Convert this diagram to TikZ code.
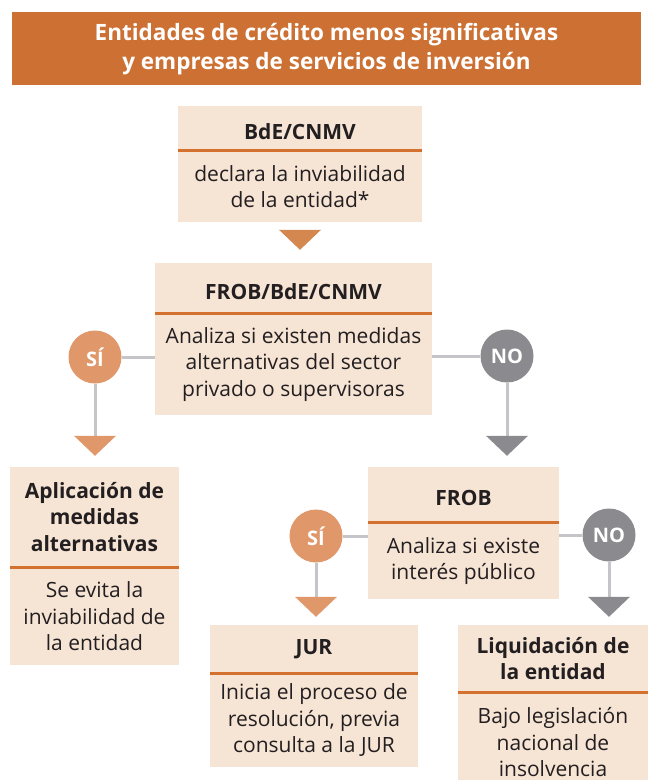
\documentclass[tikz,border=0pt]{standalone}
\usepackage{fontspec}
\setmainfont{Open Sans}
\usetikzlibrary{arrows.meta}

\definecolor{headcol}{HTML}{CD7033}
\definecolor{boxfill}{HTML}{F6E4D5}
\definecolor{sepcol}{HTML}{D5712E}
\definecolor{sicol}{HTML}{E0976A}
\definecolor{nocol}{HTML}{8B8B8F}
\definecolor{linkcol}{HTML}{C5C5C9}
\definecolor{txtcol}{HTML}{231F20}
\definecolor{downcol}{HTML}{D4874F}

\tikzset{
boxhead/.style={fill=boxfill, text=txtcol, align=center, inner sep=0pt,
  font=\fontsize{21}{26.5}\selectfont\bfseries},
onehead/.style={boxhead, text height=22pt, text depth=0pt},
boxbody/.style={fill=boxfill, text=txtcol, align=center, inner sep=0pt,
  anchor=north, font=\fontsize{21}{26.5}\selectfont},
seprule/.style={draw=sepcol, line width=3pt},
answer/.style={circle, minimum size=53pt, inner sep=0pt, text=white,
  font=\fontsize{20}{24}\selectfont\bfseries},
link/.style={draw=linkcol, line width=3pt},
downtip/.style={-{Triangle[width=42pt,length=20pt,line width=0pt,color=#1]}},
}

\begin{document}
\begin{tikzpicture}[x=1pt,y=-1pt]
\useasboundingbox (0,0) rectangle (651,780);

% cabecera
\node[fill=headcol, text=white, align=center, inner sep=0pt,
  minimum width=629pt, minimum height=73pt,
  font=\fontsize{22.5}{29}\selectfont\bfseries] (titulo) at (326.5,48.5)
  {\rule{0pt}{19pt}Entidades de crédito menos significativas\\y empresas de servicios de inversión};

% cajas
\node[onehead, minimum width=244pt, minimum height=44pt] (bde) at (300,128) {BdE/CNMV};
\node[boxbody, minimum width=244pt, minimum height=72pt] (bde-b) at (bde.south)
  {declara la inviabilidad\\de la entidad*};
\draw[seprule] (bde.south west) -- (bde.south east);

\node[onehead, minimum width=277pt, minimum height=50pt] (frobbde) at (293.5,288) {FROB/BdE/CNMV};
\node[boxbody, minimum width=277pt, minimum height=102pt] (frobbde-b) at (frobbde.south)
  {Analiza si existen medidas\\alternativas del sector\\privado o supervisoras};
\draw[seprule] (frobbde.south west) -- (frobbde.south east);

\node[boxhead, minimum width=169pt, minimum height=100pt] (aplic) at (94.5,517)
  {Aplicación de\\medidas\\alternativas};
\node[boxbody, minimum width=169pt, minimum height=98pt] (aplic-b) at (aplic.south)
  {Se evita la\\inviabilidad de\\la entidad};
\draw[seprule] (aplic.south west) -- (aplic.south east);

\node[onehead, minimum width=191pt, minimum height=55pt] (frob) at (463.5,494.5) {FROB};
\node[boxbody, minimum width=191pt, minimum height=77pt] (frob-b) at (frob.south)
  {Analiza si existe\\interés público};
\draw[seprule] (frob.south west) -- (frob.south east);

\node[boxhead, minimum width=208pt, minimum height=48pt] (jur) at (314,649) {JUR};
\node[boxbody, minimum width=208pt, minimum height=94pt] (jur-b) at (jur.south)
  {Inicia el proceso de\\resolución, previa\\consulta a la JUR};
\draw[seprule] (jur.south west) -- (jur.south east);

\node[boxhead, minimum width=190pt, minimum height=67pt] (liq) at (553,658.5)
  {Liquidación de\\la entidad};
\node[boxbody, minimum width=190pt, minimum height=100pt] (liq-b) at (liq.south)
  {Bajo legislación\\nacional de\\insolvencia};
\draw[seprule] (liq.south west) -- (liq.south east);

% respuestas
\node[answer, fill=sicol] (si1) at (95,357) {SÍ};
\node[answer, fill=nocol] (no1) at (507,356) {NO};
\node[answer, fill=sicol] (si2) at (316,536) {SÍ};
\node[answer, fill=nocol] (no2) at (609,535) {NO};

% conectores
\draw[downtip=downcol, line width=0.1pt, shorten <=8pt, shorten >=13pt]
  (bde-b.south) -- (bde-b.south |- frobbde.north);
\draw[link] (si1) -- (si1 -| frobbde-b.west);
\draw[link] (no1) -- (no1 -| frobbde-b.east);
\draw[link, downtip=sicol, shorten >=11pt] (si1) -- (si1 |- aplic.north);
\draw[link, downtip=nocol, shorten >=11pt] (no1) -- (no1 |- frob.north);
\draw[link] (si2) -- (si2 -| frob-b.west);
\draw[link] (no2) -- (no2 -| frob-b.east);
\draw[link, downtip=sicol, shorten >=8pt] (si2) -- (si2 |- jur.north);
\draw[link, downtip=nocol, shorten >=8pt] (no2) -- (no2 |- liq.north);
\end{tikzpicture}
\end{document}
